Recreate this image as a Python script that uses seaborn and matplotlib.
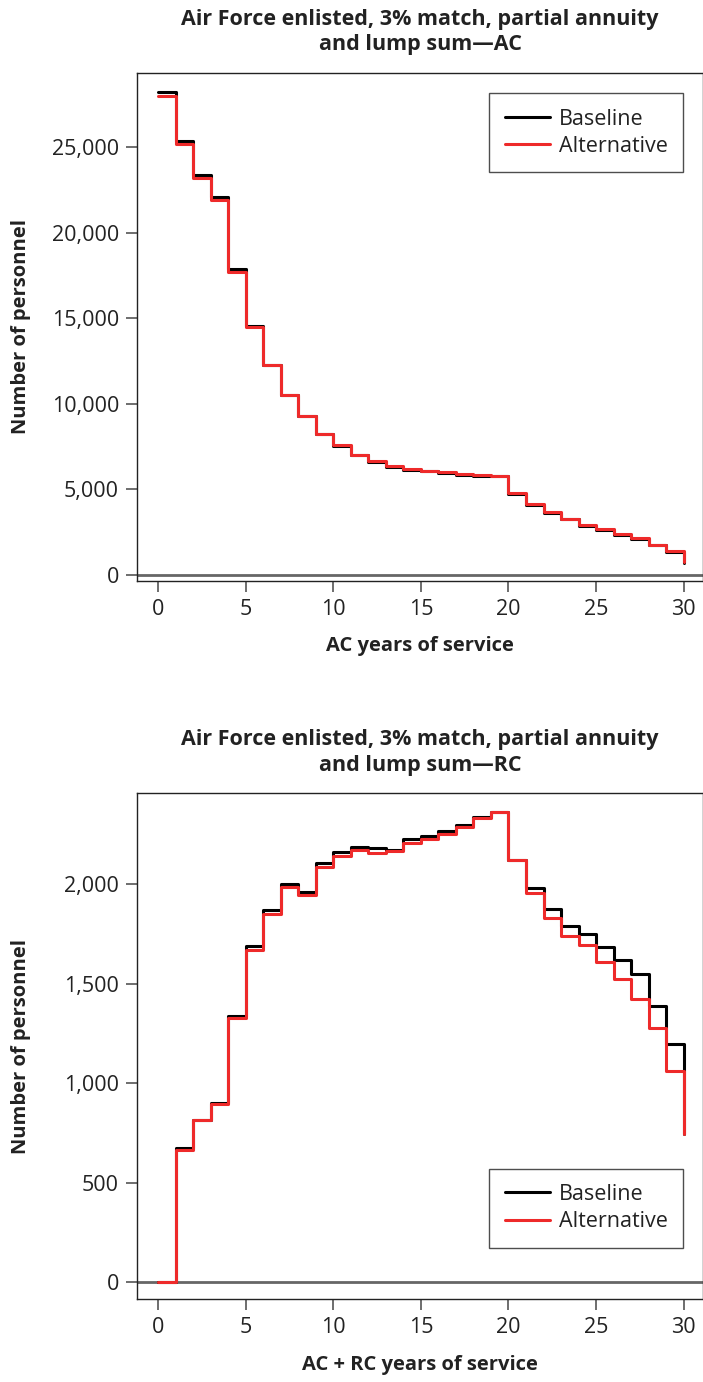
import numpy as np
import pandas as pd
import matplotlib
matplotlib.use("Agg")
import matplotlib.pyplot as plt
from matplotlib.lines import Line2D
import seaborn as sns

# ---------------- data ----------------
years = list(range(0, 31))

ac_baseline = [28230, 25350, 23360, 22080, 17870, 14530, 12270, 10500, 9270, 8200,
               7520, 6980, 6590, 6300, 6110, 6040, 5950, 5860, 5800, 5760,
               4740, 4100, 3630, 3240, 2850, 2600, 2340, 2110, 1720, 1330, 700]
ac_alternative = [27980, 25160, 23170, 21900, 17720, 14500, 12270, 10510, 9290, 8240,
                  7570, 7030, 6640, 6350, 6160, 6080, 5990, 5900, 5840, 5800,
                  4790, 4150, 3680, 3290, 2900, 2650, 2390, 2160, 1770, 1380, 740]

rc_baseline = [0, 672, 814, 901, 1337, 1688, 1869, 1998, 1961, 2104,
               2162, 2188, 2179, 2171, 2225, 2243, 2268, 2296, 2335, 2360,
               2121, 1978, 1873, 1789, 1747, 1682, 1618, 1546, 1387, 1196, 745]
rc_alternative = [0, 663, 812, 893, 1328, 1668, 1848, 1986, 1945, 2087,
                  2141, 2171, 2157, 2165, 2204, 2225, 2251, 2288, 2330, 2360,
                  2121, 1953, 1828, 1739, 1693, 1610, 1521, 1421, 1275, 1062, 745]

series_names = ["Baseline", "Alternative"]
titles = ["Air Force enlisted, 3% match, partial annuity\nand lump sum\u2014AC",
          "Air Force enlisted, 3% match, partial annuity\nand lump sum\u2014RC"]
xlabels = ["AC years of service", "AC + RC years of service"]
ylabel = "Number of personnel"
x_ticks = [0, 5, 10, 15, 20, 25, 30]
ac_yticks = [0, 5000, 10000, 15000, 20000, 25000]
rc_yticks = [0, 500, 1000, 1500, 2000]

# ---------------- style ----------------
sns.set_theme(style="white")
plt.rcParams["font.family"] = ["Open Sans", "DejaVu Sans"]
plt.rcParams["axes.edgecolor"] = "#222222"
plt.rcParams["axes.linewidth"] = 1.0

palette = {"Baseline": "#000000", "Alternative": "#ee2a2a"}
TXT = "#222222"

fig = plt.figure(figsize=(7.03, 13.82), dpi=100)
ax1 = fig.add_axes([0.1949, 0.5798, 0.8051, 0.3676])
ax2 = fig.add_axes([0.1949, 0.0601, 0.8051, 0.3659])


def make_df(base, alt):
    return pd.DataFrame({
        "year": years + years,
        "value": base + alt,
        "series": ["Baseline"] * len(years) + ["Alternative"] * len(years),
    })


def draw(ax, base, alt, title, xlabel, yticks, ylim, legend_loc, anchor):
    df = make_df(base, alt)
    sns.lineplot(data=df, x="year", y="value", hue="series",
                 hue_order=series_names, palette=palette,
                 drawstyle="steps-post", linewidth=2.2, ax=ax,
                 legend=False, sort=False)
    ax.axhline(0, color="#666666", linewidth=2.0, zorder=0.5)
    ax.set_xlim(-1.2, 31.1)
    ax.set_ylim(*ylim)
    ax.set_xticks(x_ticks)
    ax.set_xticklabels([str(t) for t in x_ticks], fontsize=15.5, color=TXT)
    ax.set_yticks(yticks)
    ax.set_yticklabels([f"{t:,}" for t in yticks], fontsize=15.5, color=TXT)
    ax.tick_params(axis="both", which="major", direction="out", length=8,
                   width=1.2, color="#555555", pad=5,
                   bottom=True, left=True)
    ax.set_xlabel(xlabel, fontsize=14.5, fontweight="bold", color=TXT, labelpad=12)
    ax.set_ylabel(ylabel, fontsize=14.5, fontweight="bold", color=TXT)
    ax.yaxis.set_label_coords(-0.187, 0.5)
    ax.set_title(title, fontsize=15.5, fontweight="bold", color=TXT,
                 pad=16, linespacing=1.3)
    for s in ax.spines.values():
        s.set_visible(True)
        s.set_color("#222222")
        s.set_linewidth(1.0)
    handles = [Line2D([0], [0], color=palette[n], lw=2.2) for n in series_names]
    leg = ax.legend(handles, series_names, loc=legend_loc, bbox_to_anchor=anchor,
                    fontsize=15.5, frameon=True, fancybox=False,
                    edgecolor="#222222", handlelength=2.1, handletextpad=0.42,
                    borderpad=0.72, labelspacing=0.3, borderaxespad=0.0)
    leg.get_frame().set_linewidth(1.0)
    for t in leg.get_texts():
        t.set_color(TXT)


draw(ax1, ac_baseline, ac_alternative, titles[0], xlabels[0], ac_yticks,
     (-345, 29340), "upper right", (0.965, 0.96))
draw(ax2, rc_baseline, rc_alternative, titles[1], xlabels[1], rc_yticks,
     (-85, 2456), "lower right", (0.965, 0.1008))

fig.savefig("out.png", dpi=100)
